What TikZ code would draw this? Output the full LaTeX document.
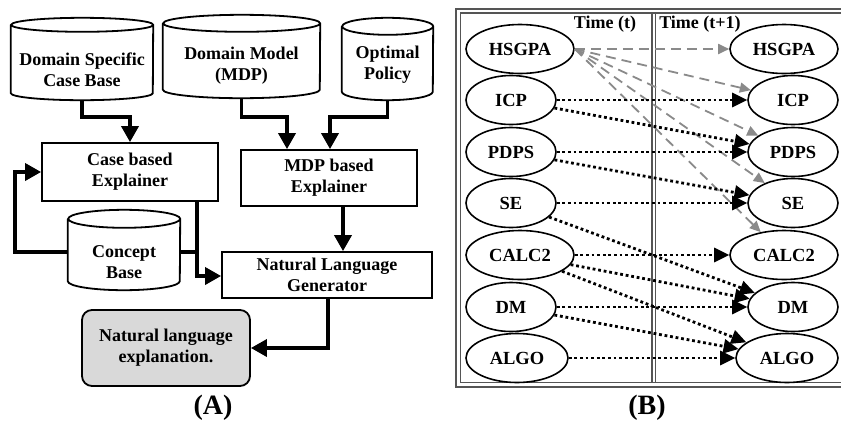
\documentclass[tikz,border=0pt]{standalone}
\usepackage{fontspec}
\setmainfont{Liberation Serif}
\usetikzlibrary{arrows.meta,calc,shapes.geometric}
\definecolor{arrgray}{HTML}{8A8A8A}
\definecolor{nlefill}{HTML}{D9D9D9}
\definecolor{framecol}{HTML}{555555}

\tikzset{
 every node/.style={font=\fontsize{18}{21}\selectfont\bfseries},
 txt/.style={align=center, inner sep=0pt},
 cylbox/.style={inner sep=0pt, draw=none},
 nodeline/.style={line width=1.8pt},
 box/.style={draw, line width=1.8pt, align=center, inner sep=0pt},
 conn/.style={line width=3.5pt, -{Triangle[length=16pt,width=17pt]}},
 connline/.style={line width=3.5pt},
 bel/.style={draw, ellipse, line width=1.6pt, minimum height=49pt, inner sep=0pt, font=\fontsize{18.5}{21}\selectfont\bfseries},
 dotarr/.style={line width=2.8pt, dash pattern=on 2.8pt off 2.8pt, -{Triangle[length=15pt,width=14pt]}},
 dasharr/.style={line width=1.8pt, dash pattern=on 10pt off 6pt, draw=arrgray, -{Triangle[length=11pt,width=10pt,fill=arrgray]}},
 framel/.style={line width=1.3pt, draw=framecol},
 captxt/.style={font=\fontsize{28}{30}\selectfont\bfseries},
}

% name, x1, ytop, x2, ybottom, ry, text, text shift
\newcommand\mycyl[8]{%
 \pgfmathsetmacro\cylcx{(#2+#4)/2}%
 \pgfmathsetmacro\cylrx{(#4-#2)/2}%
 \pgfmathsetmacro\cylcy{-(#3+#5)/2}%
 \pgfmathsetmacro\cylhh{#5-#3}%
 \pgfmathsetmacro\cylww{#4-#2}%
 \node[cylbox, minimum width=\cylww pt, minimum height=\cylhh pt,
   label={[txt,yshift=#8pt]center:{#7}}] (#1) at (\cylcx,\cylcy) {};
 \draw[nodeline] ($(#1.north west)+(0,-#6)$) -- ($(#1.south west)+(0,#6)$)
   arc[start angle=180, end angle=360, x radius=\cylrx pt, y radius=#6 pt]
   -- ($(#1.north east)+(0,-#6)$)
   arc[start angle=0, end angle=360, x radius=\cylrx pt, y radius=#6 pt];
}

\begin{document}
\begin{tikzpicture}[x=1pt,y=1pt]
\useasboundingbox (0,0) rectangle (841,-424);

% ---------------- Panel A ----------------
\mycyl{dscb}{11}{18}{153}{100}{7}{Domain Specific\\Case Base}{-11}
\mycyl{dmm}{163}{15}{320}{98}{8.5}{Domain Model\\(MDP)}{-9.5}
\mycyl{op}{342}{18}{433}{100}{8.5}{Optimal\\Policy}{-6}
\mycyl{cb}{68}{210}{180}{290}{9}{Concept\\Base}{-12}

\node[box, minimum width=176pt, minimum height=58pt] (cbe) at (130,-172) {Case based\\Explainer};
\node[box, minimum width=176pt, minimum height=56pt] (mdpe) at (329,-178) {MDP based\\Explainer};
\node[box, minimum width=210pt, minimum height=46pt] (nlg) at (327,-275) {Natural Language\\Generator};
\node[box, fill=nlefill, rounded corners=10pt, minimum width=168pt, minimum height=76pt] (nle) at (166,-348) {Natural language\\explanation.};

\coordinate (j) at (197,-252);

\draw[conn] (dscb.south) -- ++(0,-17) -| (cbe.north);
\draw[conn] (dmm.south) -- ++(0,-19) -| ($(mdpe.north)+(-42,0)$);
\draw[conn] (op.south) -- ++(0,-17) -| ($(mdpe.north)+(1,0)$);
\draw[conn] ($(mdpe.south)+(14,0)$) -- ($(nlg.north)+(16,0)$);
\draw[conn] ($(cbe.south)+(67,0)$) |- ($(nlg.west)+(0,-1)$);
\draw[connline] ($(cb.east)+(0,-2)$) -- (j);
\draw[conn] ($(cb.west)+(0,-2)$) -- ++(-53,0) |- (cbe.west);
\draw[conn] ($(nlg.south)+(1,0)$) |- (nle.east);

\node[captxt] (capa) at (213,-408) {(A)};

% ---------------- Panel B ----------------
\draw[framel] (456,-9) rectangle (850,-387);
\draw[framel] (460.5,-13) rectangle (850,-382.5);
\draw[framel] (652,-13) -- (652,-382.5);
\draw[framel] (655.5,-13) -- (655.5,-382.5);

\node[font=\fontsize{18}{20}\selectfont\bfseries] (tt) at (605,-24) {Time (t)};
\node[font=\fontsize{18}{20}\selectfont\bfseries] (tt1) at (700,-24) {Time (t+1)};

\node[bel, minimum width=108pt] (hl) at (520,-49) {HSGPA};
\node[bel, minimum width=90pt] (il) at (511,-100) {ICP};
\node[bel, minimum width=90pt] (pl) at (511,-152) {PDPS};
\node[bel, minimum width=90pt] (sl) at (511,-203) {SE};
\node[bel, minimum width=108pt] (cl) at (520,-255) {CALC2};
\node[bel, minimum width=90pt] (dl) at (511,-307) {DM};
\node[bel, minimum width=102pt] (al) at (517,-358) {ALGO};

\node[bel, minimum width=108pt] (hr) at (784,-49) {HSGPA};
\node[bel, minimum width=90pt] (ir) at (793,-100) {ICP};
\node[bel, minimum width=90pt] (pr) at (793,-152) {PDPS};
\node[bel, minimum width=90pt] (sr) at (793,-203) {SE};
\node[bel, minimum width=108pt] (cr) at (784,-255) {CALC2};
\node[bel, minimum width=90pt] (dr) at (793,-307) {DM};
\node[bel, minimum width=102pt] (ar) at (787,-358) {ALGO};

\draw[dasharr] (hl.east) -- (hr);
\draw[dasharr] (hl.east) -- (ir);
\draw[dasharr] (hl.east) -- (pr);
\draw[dasharr] (hl.east) -- (sr);
\draw[dasharr] (hl.east) -- (cr);

\draw[dotarr] (il) -- (ir);
\draw[dotarr] (il) -- (pr);
\draw[dotarr] (pl) -- (pr);
\draw[dotarr] (pl) -- (sr);
\draw[dotarr] (sl) -- (sr);
\draw[dotarr] (sl) -- (dr);
\draw[dotarr] (cl) -- (cr);
\draw[dotarr] (cl) -- (dr);
\draw[dotarr] (cl) -- (ar);
\draw[dotarr] (dl) -- (dr);
\draw[dotarr] (dl) -- (ar);
\draw[dotarr] (al) -- (ar);

\node[captxt] (capb) at (647,-408) {(B)};
\end{tikzpicture}
\end{document}
